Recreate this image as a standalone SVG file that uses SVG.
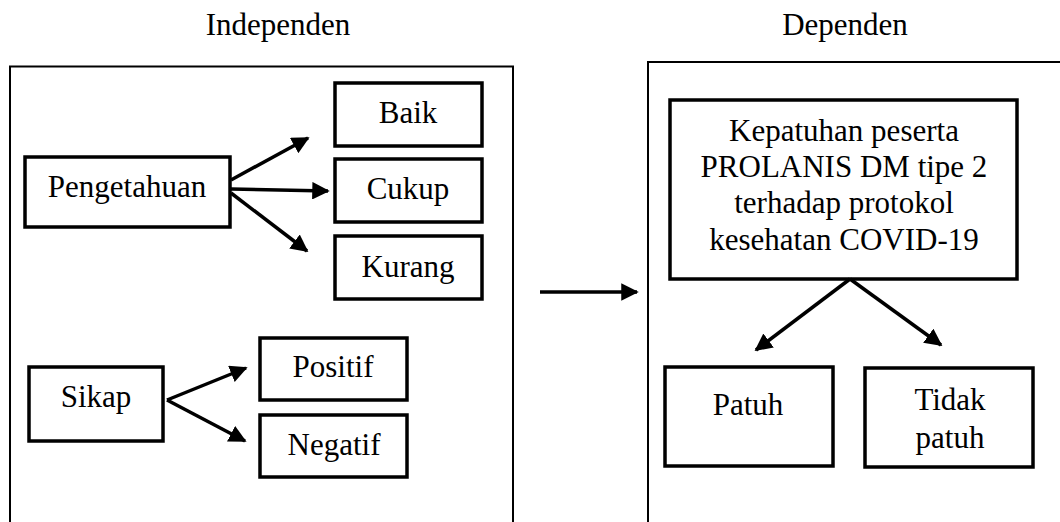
<svg xmlns="http://www.w3.org/2000/svg" width="1060" height="522" viewBox="0 0 1060 522">
<style>
text{font-family:"Liberation Serif","Times New Roman",serif;font-size:31px;fill:#000;text-anchor:middle}
.outer{fill:none;stroke:#000;stroke-width:2}
.box{fill:#fff;stroke:#000;stroke-width:3.5}
.conn line{stroke:#000;stroke-width:3.5;marker-end:url(#ah)}
</style>
<defs>
<marker id="ah" viewBox="0 0 10 10" refX="9" refY="5" markerWidth="5" markerHeight="5" markerUnits="strokeWidth" orient="auto">
<path d="M0,0 L10,5 L0,10 z" fill="#000"/>
</marker>
</defs>
<rect width="1060" height="522" fill="#fff"/>
<g id="title-independen"><text x="278" y="35">Independen</text></g>
<g id="title-dependen"><text x="845" y="35">Dependen</text></g>
<g id="independen-box"><rect class="outer" x="10" y="66.5" width="503" height="470"/></g>
<g id="dependen-box"><rect class="outer" x="648" y="62" width="430" height="475"/></g>
<g id="pengetahuan"><rect class="box" x="25" y="157" width="205" height="70"/><text x="127" y="197">Pengetahuan</text></g>
<g id="baik"><rect class="box" x="335" y="83" width="147" height="63"/><text x="408" y="123">Baik</text></g>
<g id="cukup"><rect class="box" x="335" y="159" width="147" height="63"/><text x="408" y="199">Cukup</text></g>
<g id="kurang"><rect class="box" x="335" y="236" width="147" height="63"/><text x="408" y="277">Kurang</text></g>
<g id="sikap"><rect class="box" x="29" y="367" width="134" height="74"/><text x="96" y="407">Sikap</text></g>
<g id="positif"><rect class="box" x="260" y="338" width="147" height="62"/><text x="333" y="377">Positif</text></g>
<g id="negatif"><rect class="box" x="260" y="415" width="147" height="62"/><text x="334" y="455">Negatif</text></g>
<g id="kepatuhan"><rect class="box" x="670" y="100" width="347" height="179"/>
<text x="844" y="141">Kepatuhan peserta</text>
<text x="844" y="177">PROLANIS DM tipe 2</text>
<text x="844" y="213">terhadap protokol</text>
<text x="844" y="250">kesehatan COVID-19</text></g>
<g id="patuh"><rect class="box" x="665" y="367" width="168" height="99"/><text x="748" y="415">Patuh</text></g>
<g id="tidak-patuh"><rect class="box" x="865" y="368" width="168" height="99"/><text x="950" y="410">Tidak</text><text x="950" y="448">patuh</text></g>
<g class="conn" id="connectors">
<line x1="231" y1="180" x2="308" y2="138"/>
<line x1="231" y1="189" x2="328" y2="191"/>
<line x1="231" y1="193" x2="307" y2="251"/>
<line x1="167" y1="400" x2="246" y2="368"/>
<line x1="167" y1="400" x2="245" y2="441"/>
<line x1="540" y1="292" x2="637" y2="292"/>
<line x1="850" y1="279" x2="756" y2="350"/>
<line x1="850" y1="279" x2="941" y2="345"/>
</g>
</svg>
